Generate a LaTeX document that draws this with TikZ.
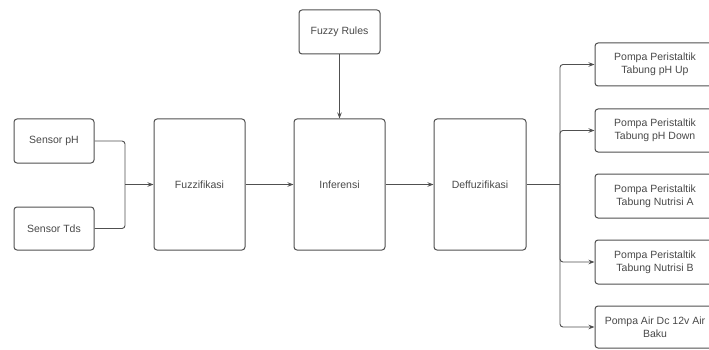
\documentclass[tikz,border=0pt]{standalone}
\usepackage{fontspec}
\setmainfont{Liberation Sans}
\usetikzlibrary{arrows.meta}
\definecolor{linegray}{HTML}{505050}
\definecolor{textgray}{HTML}{484848}
\tikzset{
  block/.style={draw=linegray, line width=1pt, rounded corners=3pt,
    text=textgray, align=center, inner sep=0pt,
    font=\fontsize{10.5}{13}\selectfont},
  link/.style={draw=linegray, line width=0.9pt, rounded corners=3pt},
  tip/.style={-{Stealth[length=6pt,width=4.5pt]}}
}
\begin{document}
\begin{tikzpicture}[x=1pt,y=-1pt]
      \useasboundingbox (0,0) rectangle (709,350);
      \path
        (54,141) node[block, minimum width=80, minimum height=44] (sph){Sensor pH}
        (54,228.5) node[block, minimum width=80, minimum height=43] (stds){Sensor Tds}
        (199.5,184.5) node[block, minimum width=91, minimum height=131] (fuzz){Fuzzifikasi}
        (339.5,32) node[block, minimum width=81, minimum height=44] (rules){Fuzzy Rules}
        (339.5,184.5) node[block, minimum width=91, minimum height=131] (inf){Inferensi}
        (480,184.5) node[block, minimum width=92, minimum height=131] (defz){Deffuzifikasi}
        (655,64.5) node[block, minimum width=120, minimum height=43] (o1){Pompa Peristaltik\\Tabung pH Up}
        (655,130.5) node[block, minimum width=120, minimum height=43] (o2){Pompa Peristaltik\\Tabung pH Down}
        (655,196) node[block, minimum width=120, minimum height=44] (o3){Pompa Peristaltik\\Tabung Nutrisi A}
        (655,262) node[block, minimum width=120, minimum height=44] (o4){Pompa Peristaltik\\Tabung Nutrisi B}
        (655,327) node[block, minimum width=120, minimum height=42] (o5){Pompa Air Dc 12v Air\\Baku};
      \coordinate (mrg) at (125,184.5);
      \coordinate (split) at (560,184.5);
      \begin{scope}[link]
        \draw (sph) -| (mrg);
        \draw (stds) -| (mrg);
        \draw[tip] (mrg) to (fuzz);
        \draw[tip] (fuzz) to (inf);
        \draw[tip] (rules) to (inf);
        \draw[tip] (inf) to (defz);
        \draw (defz) to (split);
        \draw[tip] (split) |- (o1);
        \draw[tip] (split) |- (o2);
        \draw[tip] (split) |- (o4);
        \draw[tip] (split) |- (o5);
      \end{scope}
    \end{tikzpicture}
\end{document}
